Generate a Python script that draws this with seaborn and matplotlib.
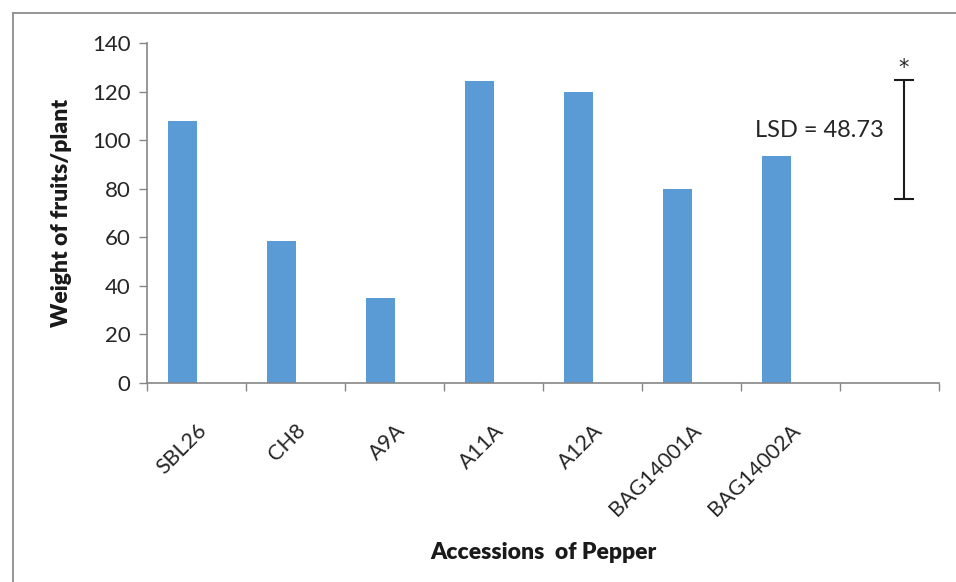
import matplotlib
matplotlib.use("Agg")
import matplotlib.pyplot as plt
import seaborn as sns
import pandas as pd
import numpy as np
from matplotlib.lines import Line2D

# Mean fruit weight per plant for each pepper accession
accessions = ["SBL26", "CH8", "A9A", "A11A", "A12A", "BAG14001A", "BAG14002A"]
weights = [108.0, 58.5, 35.0, 124.5, 119.7, 80.0, 93.3]

# Least significant difference, drawn as a bar in a spare slot
lsd_value = 48.73
lsd_center = 100.2

sns.set_theme(style="white")
plt.rcParams["font.family"] = ["Lato", "DejaVu Sans"]

slots = accessions + [""]
df = pd.DataFrame({
    "accession": slots,
    "weight": weights + [np.nan],
    "series": ["Weight"] * len(accessions) + ["LSD"],
})

fig = plt.figure(figsize=(9.56, 5.82), dpi=100)
ax = fig.add_axes([147 / 956, 1 - 383 / 582, (939 - 147) / 956, (383 - 43) / 582])

# outer chart frame: only its top and left edges fall inside the image
fx, fy = 12.5 / 956, 1 - 12.5 / 582
for xs, ys in [([fx, 1.0], [fy, fy]), ([fx, fx], [0.0, fy])]:
    fig.add_artist(Line2D(xs, ys, transform=fig.transFigure,
                          color="#8c8c8c", linewidth=1.3))

group_width = 0.5714
sns.barplot(data=df, x="accession", y="weight", hue="series", order=slots,
            hue_order=["Weight", "LSD"], palette=["#5B9BD5", "#5B9BD5"],
            saturation=1, width=group_width, dodge=True, legend=False, ax=ax,
            edgecolor="none")

# LSD bar sits in the second dodge position of the last slot
lsd_x = len(accessions) + group_width / 4
ax.errorbar(lsd_x, lsd_center, yerr=lsd_value / 2, color="#1a1a1a",
            linewidth=1.5, capsize=7, capthick=1.5)
ax.text(lsd_x, lsd_center + lsd_value / 2 + 1.0, "*", ha="center", va="bottom",
        fontsize=15, color="#262626", family="DejaVu Sans")
ax.text(lsd_x - 0.2, 104, "LSD = 48.73", ha="right", va="center",
        fontsize=17, color="#262626")

ax.set_xlim(-0.5, len(slots) - 0.5)
ax.set_ylim(0, 140)
ax.set_yticks(np.arange(0, 141, 20))
ax.tick_params(axis="y", which="major", length=6, width=1, color="#868686",
               labelsize=16, labelcolor="#262626", pad=6, left=True)

ax.set_xticks(range(len(slots)))
ax.set_xticklabels(slots, rotation=45, ha="right", rotation_mode="anchor",
                   fontsize=15.5, color="#262626")
ax.tick_params(axis="x", which="major", length=0, pad=27)
ax.set_xticks(np.arange(-0.5, len(slots), 1), minor=True)
ax.tick_params(axis="x", which="minor", length=6, width=1, color="#868686",
               bottom=True)

for side in ["top", "right"]:
    ax.spines[side].set_visible(False)
for side in ["left", "bottom"]:
    ax.spines[side].set_color("#868686")
    ax.spines[side].set_linewidth(1.2)

ax.set_xlabel("Accessions  of Pepper", fontsize=16.5, fontweight="heavy",
              color="#1a1a1a", labelpad=16)
ax.set_ylabel("Weight of fruits/plant", fontsize=16.5, fontweight="heavy",
              color="#1a1a1a", labelpad=14)

fig.savefig("out.png", dpi=100)
